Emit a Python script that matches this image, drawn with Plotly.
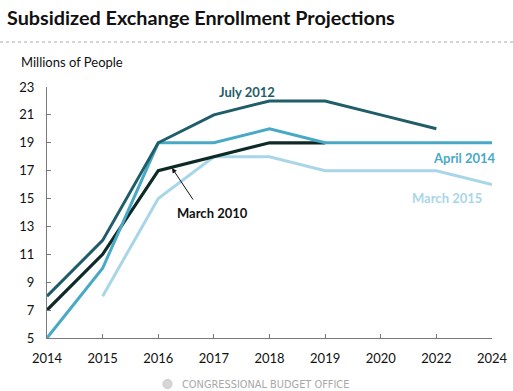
import plotly.graph_objects as go

years = ["2014", "2015", "2016", "2017", "2018", "2019", "2020", "2022", "2024"]
july_2012 = [8, 12, 19, 21, 22, 22, 21, 20, None]
april_2014 = [5, 10, 19, 19, 20, 19, 19, 19, 19]
march_2010 = [7, 11, 17, 18, 19, 19, None, None, None]
march_2015 = [None, 8, 15, 18, 18, 17, 17, 17, 16]
y_ticks = [5, 7, 9, 11, 13, 15, 17, 19, 21, 23]

W, H = 513, 391
L, R, T, B = 47, 21, 87, 53
PW, PH = W - L - R, H - T - B

def px(x):
    return (x - L) / PW

def py(y):
    return (H - B - y) / PH

FONT = "Lato, Open Sans, sans-serif"

fig = go.Figure()
series = [
    ("March 2015", march_2015, "#a8d6e8", 3),
    ("March 2010", march_2010, "#0e2a27", 3.2),
    ("April 2014", april_2014, "#48a9c6", 3),
    ("July 2012", july_2012, "#1f5d68", 3),
]
for name, vals, col, w in series:
    fig.add_trace(go.Scatter(x=years, y=vals, mode="lines", name=name,
                             line=dict(color=col, width=w), connectgaps=False,
                             hoverinfo="skip"))

axis_common = dict(showgrid=False, zeroline=False, showline=True, linecolor="#7a7a7a",
                   linewidth=1, ticks="inside", ticklen=4, tickcolor="#7a7a7a", automargin=False,
                   tickfont=dict(family=FONT, size=13, color="#111111"))
fig.update_xaxes(type="category", categoryorder="array", categoryarray=years,
                 range=[0, len(years) - 1], ticklabelstandoff=8, **axis_common)
fig.update_yaxes(range=[5, 23], tickvals=y_ticks, ticklabelstandoff=9, **axis_common)

ann = []
ann.append(dict(text="<b>Subsidized Exchange Enrollment Projections</b>", x=px(5), y=py(17),
                xanchor="left", yanchor="middle", font=dict(family=FONT, size=19.8, color="#111111")))
ann.append(dict(text="Millions of People", x=px(19), y=py(62), xanchor="left", yanchor="middle",
                font=dict(family=FONT, size=13, color="#111111")))
ann.append(dict(text="<b>July 2012</b>", x=px(247), y=py(92), xanchor="center", yanchor="middle",
                font=dict(family=FONT, size=13, color="#1f5d68")))
ann.append(dict(text="<b>April 2014</b>", x=px(498), y=py(158), xanchor="right", yanchor="middle",
                font=dict(family=FONT, size=13, color="#48a9c6")))
ann.append(dict(text="<b>March 2015</b>", x=px(484), y=py(198), xanchor="right", yanchor="middle",
                font=dict(family=FONT, size=13, color="#a8d6e8")))
ann.append(dict(text="<b>March 2010</b>", x=px(212), y=py(213), xanchor="center", yanchor="middle",
                font=dict(family=FONT, size=13, color="#111111")))
ann.append(dict(text="CONGRESSIONAL BUDGET OFFICE", x=px(180), y=py(384),
                xanchor="left", yanchor="middle",
                font=dict(family="DejaVu Sans", size=9.8, color="#a8a8a8")))
for a in ann:
    a.update(xref="paper", yref="paper", showarrow=False)
fig.update_layout(annotations=ann)
fig.add_annotation(xref="paper", yref="paper", axref="pixel", ayref="pixel",
                   x=px(172), y=py(168), ax=22, ay=33, text="", showarrow=True,
                   arrowhead=2, arrowsize=1, arrowwidth=1, arrowcolor="#111111")

fig.add_shape(type="line", xref="paper", yref="paper", x0=px(0), x1=px(513), y0=py(42), y1=py(42),
              line=dict(color="#aaaaaa", width=1, dash="dot"))
fig.add_shape(type="circle", xref="paper", yref="paper", x0=px(163), x1=px(172), y0=py(388.5), y1=py(379.5),
              line=dict(color="#c8c8c8", width=1), fillcolor="#d6d6d6")

fig.update_layout(width=W, height=H, margin=dict(l=L, r=R, t=T, b=B), showlegend=False,
                  plot_bgcolor="white", paper_bgcolor="white")
fig.write_html("out.html", config={"displayModeBar": False},
               post_script="document.body.style.margin='0px';")
